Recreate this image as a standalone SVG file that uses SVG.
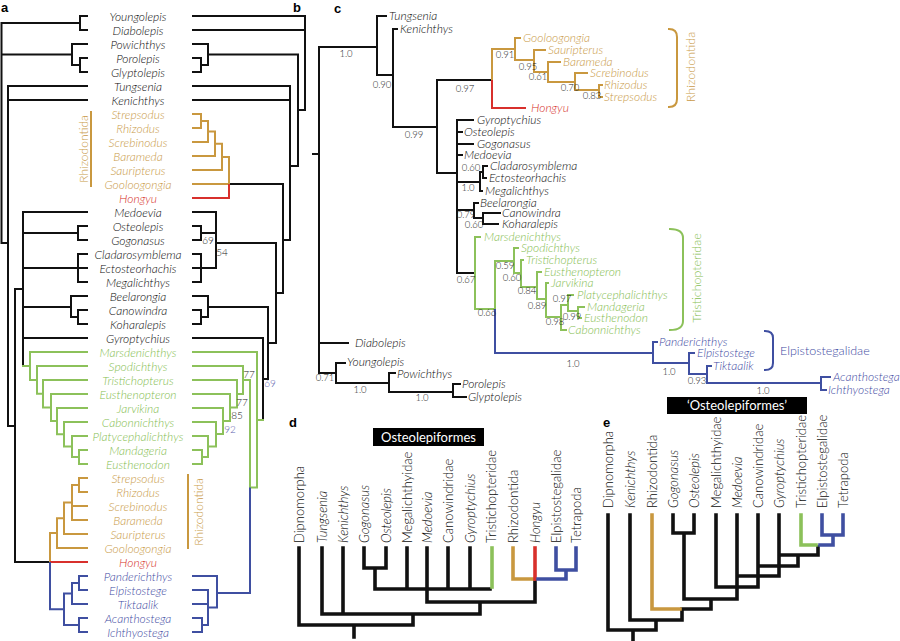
<svg xmlns="http://www.w3.org/2000/svg" width="900" height="641" viewBox="0 0 900 641">
<style>
text{font-family:Lato,"Open Sans","Liberation Sans",sans-serif;font-weight:300}
.t{font-size:12px;font-style:italic;fill:#0d0d0d}
.ta{text-anchor:middle}
.o{fill:#C99A48}
.gr{fill:#86BE52}
.re{fill:#D62F29}
.bl{fill:#3F4CA3}
.s{font-size:9.5px;fill:#222;text-anchor:middle}
.s10{font-size:10px;fill:#222;text-anchor:middle}
.p{fill:#5F66B0}
.L{fill:none;stroke-width:2;stroke-linecap:square;stroke-linejoin:miter}
.k{stroke:#111}
.lo{stroke:#C9983F}
.lg{stroke:#8CC15A}
.lr{stroke:#D8302C}
.lb{stroke:#3F4FA1}
.T{fill:none;stroke-width:3.6;stroke-linecap:square}
.n{font-size:13px;fill:#0d0d0d}
.i{font-style:italic}
.pl{font-family:"Liberation Sans",Arial,sans-serif;font-weight:bold;font-size:13px;fill:#000}
.grp{font-size:12.5px}
.bx{font-size:13px;fill:#fff;text-anchor:middle;font-weight:400}
</style>
<rect width="900" height="641" fill="#fff"/>
<text class="pl" x="1" y="12">a</text>
<text class="pl" x="293" y="12">b</text>
<text class="pl" x="334" y="13">c</text>
<text class="pl" x="289" y="427">d</text>
<text class="pl" x="603" y="427">e</text>

<!-- Panel a/b connectors -->
<g id="connectors-ab">
<path class="L k" d="M1.5,23 V243 M1.5,23 H80 M87,16 H80 V30 H87 M1.5,54.5 H72 M87,44 H72 V65 H80 M87,58 H80 V72 H87 M1.5,243 H8 M87,86 H8 V426 H15 M8,100 H87 M15,289 V562 H50 M15,289 H23 M87,212 H23 V366 M23,233 H78 M87,226 H78 V240 H87 M23,268 H87 M87,254 H78 V282 H87 M23,307 H71 M87,296 H71 V317 H78 M87,310 H78 V324 H87 M23,338 H87"/>
<path class="L lg" d="M23,366 H30 M87,352 H30 V379.9 H37 M87,366 H37 V393.8 H43 M87,380 H43 V407.6 H51 M87,394 H51 V421.1 H57 M87,408 H57 V434.3 H64 M87,422 H64 V446.5 H72 M87,436 H72 V457 H79 M87,450 H79 V464 H87"/>
<path class="L lo" d="M50,562 V533 H57 M87,548 H57 V518.3 H64 M87,534 H64 V502.5 H72 M87,520 H72 V485 H79 M87,478 H79 V492 H87 M72,506 H87"/>
<path class="L lr" d="M51,562 H87"/>
<path class="L lb" d="M50,563 V609.3 H64 M64,593.5 V625 H79 M87,618 H79 V632 H87 M64,593.5 H72 M87,604 H72 V583 H79 M87,576 H79 V590 H87"/>

<path class="L k" d="M193,16 H305 V110 H298 M193,30 H305 M193,44 H208 V65 H201 M193,58 H201 V72 H193 M208,54.5 H298 V166 H290 M193,86 H290 V240 H283 M193,100 H290 M229,184 H283 V293 H276 M193,212 H216 V268 H201 M193,226 H201 V240 H193 M201,233 H216 M201,268 H193 M193,254 H201 V282 H193 M216,243 H276 V343 H268 M193,296 H208 V317 H201 M193,310 H201 V324 H193 M208,307 H268 V379 H263 M193,338 H263 V420"/>
<path class="L lo" d="M193,114 H201 V128 H193 M201,121 H208 V142 H193 M208,131.5 H215 V156 H193 M215,143.8 H222 V170 H193 M222,156.9 H229 V184 H193"/>
<path class="L lr" d="M229,185 V198 H193"/>
<path class="L lg" d="M263,420 H257 M193,352 H257 V487.5 H250 V380 H243 M193,366 H243 V394 H237 M193,380 H237 V407.5 H230 M193,394 H230 V421 H223 M193,408 H223 V434 H216 M193,422 H216 V446.5 H208 M193,436 H208 V457 H202 M193,450 H202 V464 H193"/>
<path class="L lb" d="M250,488.5 V593 H217 M193,576 H217 V607.5 H208 M193,590 H208 V625 H202 M193,604 H208 M193,618 H202 V632 H193"/>
<path class="L lo" d="M91,112 V186 M188,475 V548"/>
</g>
<g id="support-b">
<text class="s10" x="208" y="244">69</text>
<text class="s10" x="222" y="256">54</text>
<text class="s10" x="249" y="378">77</text>
<text class="s10" x="242" y="406">77</text>
<text class="s10" x="237" y="419">85</text>
<text class="s10 p" x="230" y="433">92</text>
<text class="s10 p" x="270" y="387">69</text>
</g>
<g id="a-labels">
<g id="a-Youngolepis"><text class="t ta" x="138" y="20.5">Youngolepis</text></g>
<g id="a-Diabolepis"><text class="t ta" x="138" y="34.5">Diabolepis</text></g>
<g id="a-Powichthys"><text class="t ta" x="138" y="48.5">Powichthys</text></g>
<g id="a-Porolepis"><text class="t ta" x="138" y="62.5">Porolepis</text></g>
<g id="a-Glyptolepis"><text class="t ta" x="138" y="76.5">Glyptolepis</text></g>
<g id="a-Tungsenia"><text class="t ta" x="138" y="90.5">Tungsenia</text></g>
<g id="a-Kenichthys"><text class="t ta" x="138" y="104.5">Kenichthys</text></g>
<g id="a-Strepsodus-1"><text class="t ta o" x="138" y="118.5">Strepsodus</text></g>
<g id="a-Rhizodus-1"><text class="t ta o" x="138" y="132.5">Rhizodus</text></g>
<g id="a-Screbinodus-1"><text class="t ta o" x="138" y="146.5">Screbinodus</text></g>
<g id="a-Barameda-1"><text class="t ta o" x="138" y="160.5">Barameda</text></g>
<g id="a-Sauripterus-1"><text class="t ta o" x="138" y="174.5">Sauripterus</text></g>
<g id="a-Gooloogongia-1"><text class="t ta o" x="138" y="188.5">Gooloogongia</text></g>
<g id="a-Hongyu-1"><text class="t ta re" x="138" y="202.5">Hongyu</text></g>
<g id="a-Medoevia"><text class="t ta" x="138" y="216.5">Medoevia</text></g>
<g id="a-Osteolepis"><text class="t ta" x="138" y="230.5">Osteolepis</text></g>
<g id="a-Gogonasus"><text class="t ta" x="138" y="244.5">Gogonasus</text></g>
<g id="a-Cladarosymblema"><text class="t ta" x="138" y="258.5">Cladarosymblema</text></g>
<g id="a-Ectosteorhachis"><text class="t ta" x="138" y="272.5">Ectosteorhachis</text></g>
<g id="a-Megalichthys"><text class="t ta" x="138" y="286.5">Megalichthys</text></g>
<g id="a-Beelarongia"><text class="t ta" x="138" y="300.5">Beelarongia</text></g>
<g id="a-Canowindra"><text class="t ta" x="138" y="314.5">Canowindra</text></g>
<g id="a-Koharalepis"><text class="t ta" x="138" y="328.5">Koharalepis</text></g>
<g id="a-Gyroptychius"><text class="t ta" x="138" y="342.5">Gyroptychius</text></g>
<g id="a-Marsdenichthys"><text class="t ta gr" x="138" y="356.5">Marsdenichthys</text></g>
<g id="a-Spodichthys"><text class="t ta gr" x="138" y="370.5">Spodichthys</text></g>
<g id="a-Tristichopterus"><text class="t ta gr" x="138" y="384.5">Tristichopterus</text></g>
<g id="a-Eusthenopteron"><text class="t ta gr" x="138" y="398.5">Eusthenopteron</text></g>
<g id="a-Jarvikina"><text class="t ta gr" x="138" y="412.5">Jarvikina</text></g>
<g id="a-Cabonnichthys"><text class="t ta gr" x="138" y="426.5">Cabonnichthys</text></g>
<g id="a-Platycephalichthys"><text class="t ta gr" x="138" y="440.5">Platycephalichthys</text></g>
<g id="a-Mandageria"><text class="t ta gr" x="138" y="454.5">Mandageria</text></g>
<g id="a-Eusthenodon"><text class="t ta gr" x="138" y="468.5">Eusthenodon</text></g>
<g id="a-Strepsodus-2"><text class="t ta o" x="138" y="482.5">Strepsodus</text></g>
<g id="a-Rhizodus-2"><text class="t ta o" x="138" y="496.5">Rhizodus</text></g>
<g id="a-Screbinodus-2"><text class="t ta o" x="138" y="510.5">Screbinodus</text></g>
<g id="a-Barameda-2"><text class="t ta o" x="138" y="524.5">Barameda</text></g>
<g id="a-Sauripterus-2"><text class="t ta o" x="138" y="538.5">Sauripterus</text></g>
<g id="a-Gooloogongia-2"><text class="t ta o" x="138" y="552.5">Gooloogongia</text></g>
<g id="a-Hongyu-2"><text class="t ta re" x="138" y="566.5">Hongyu</text></g>
<g id="a-Panderichthys"><text class="t ta bl" x="138" y="580.5">Panderichthys</text></g>
<g id="a-Elpistostege"><text class="t ta bl" x="138" y="594.5">Elpistostege</text></g>
<g id="a-Tiktaalik"><text class="t ta bl" x="138" y="608.5">Tiktaalik</text></g>
<g id="a-Acanthostega"><text class="t ta bl" x="138" y="622.5">Acanthostega</text></g>
<g id="a-Ichthyostega"><text class="t ta bl" x="138" y="636.5">Ichthyostega</text></g>
<g id="a-Rhizodontida-1"><text class="o ta" font-size="12" transform="translate(87.5,149) rotate(-90)">Rhizodontida</text></g>
<g id="a-Rhizodontida-2"><text class="o ta" font-size="12" transform="translate(202.5,512) rotate(-90)">Rhizodontida</text></g>
</g>

<!-- Panel c connectors -->
<g id="connectors-c">
<path class="L k" d="M313,154 H319 M319,47 V373 M319,47 H377 M386,16 H377 V75 H393 M397,29 H393 V127 H437 M437,80 V173 H457 M437,80 H492 M457,120 V273 M457,120 H473 M457,132 H462 M457,144 H473 M457,155 H462 M457,182 H480 M482,191 H480 V172 H483 M487,166 H483 V178 H486 M457,210 H474 M478,203 H474 V218 H483 M500,213 H483 V224 H498 M457,273 H475 M319,343 H348 M319,373 H336 M345,363 H336 V383 H389 M395,373 H389 V392 H453 M460,384 H453 V397 H466"/>
<path class="L lo" d="M492,80 V49 H515 M520,38 H515 V60 H534 M545,50 H534 V72 H548 M560,62 H548 V82 H575 M587,73 H575 V90 H599 M602,85 H599 V97 H602"/>
<path class="L lr" d="M492,81 V108 H525"/>
<path class="L lg" d="M480,237 H475 V309 H495 V261 H514 M518,248 H514 V273 H521 M523,260 H521 V287 H537 M541,272 H537 V299 H546 M548,283 H546 V317 H561 M566,330 H561 V305 H568 M573,295 H568 V311 H578 M584,307 H578 V318 H581"/>
<path class="L lb" d="M495,310 V353 H653 M657,342 H653 V363 H689 M694,353 H689 V374 H707 M711,366 H707 V383 H821 M830,377 H821 V390 H826"/>
<path class="L lo" d="M669,29 Q677,29 677,37 V99 Q677,107 669,107"/>
<path class="L lg" d="M670,229 Q683,229 683,238 V321 Q683,330 670,330"/>
<path class="L lb" d="M765,331 Q773,331 773,338 V363 Q773,370 765,370"/>
</g>
<g id="support-c">
<text class="s" x="346" y="57">1.0</text>
<text class="s" x="382" y="88">0.90</text>
<text class="s" x="414" y="138">0.99</text>
<text class="s" x="465" y="92">0.97</text>
<text class="s" x="505" y="58">0.91</text>
<text class="s" x="528" y="70">0.95</text>
<text class="s" x="538" y="80">0.61</text>
<text class="s" x="570" y="91">0.70</text>
<text class="s" x="592" y="99">0.83</text>
<text class="s" x="471" y="171">0.60</text>
<text class="s" x="468" y="191">1.0</text>
<text class="s" x="466" y="218">0.79</text>
<text class="s" x="474" y="228">0.60</text>
<text class="s" x="466" y="283">0.67</text>
<text class="s" x="487" y="316">0.66</text>
<text class="s" x="505" y="269">0.59</text>
<text class="s" x="512" y="281">0.60</text>
<text class="s" x="527" y="294">0.84</text>
<text class="s" x="537" y="309">0.89</text>
<text class="s" x="555" y="325">0.98</text>
<text class="s" x="562" y="302">0.97</text>
<text class="s" x="572" y="320">0.99</text>
<text class="s" x="573" y="367" font-size="13">1.0</text>
<text class="s" x="669" y="375">1.0</text>
<text class="s" x="697" y="384">0.93</text>
<text class="s" x="763" y="394">1.0</text>
<text class="s" x="325" y="381">0.71</text>
<text class="s" x="360" y="393">1.0</text>
<text class="s" x="422" y="401">1.0</text>
</g>
<g id="c-labels">
<g id="c-Tungsenia"><text class="t" x="389" y="20">Tungsenia</text></g>
<g id="c-Kenichthys"><text class="t" x="400" y="33">Kenichthys</text></g>
<g id="c-Gooloogongia"><text class="t o" x="523" y="42">Gooloogongia</text></g>
<g id="c-Sauripterus"><text class="t o" x="548" y="54">Sauripterus</text></g>
<g id="c-Barameda"><text class="t o" x="563" y="66">Barameda</text></g>
<g id="c-Screbinodus"><text class="t o" x="590" y="77">Screbinodus</text></g>
<g id="c-Rhizodus"><text class="t o" x="604" y="89">Rhizodus</text></g>
<g id="c-Strepsodus"><text class="t o" x="604" y="101">Strepsodus</text></g>
<g id="c-Hongyu"><text class="t re" x="531" y="112">Hongyu</text></g>
<g id="c-Gyroptychius"><text class="t" x="477" y="124">Gyroptychius</text></g>
<g id="c-Osteolepis"><text class="t" x="464" y="136">Osteolepis</text></g>
<g id="c-Gogonasus"><text class="t" x="477" y="148">Gogonasus</text></g>
<g id="c-Medoevia"><text class="t" x="464" y="159">Medoevia</text></g>
<g id="c-Cladarosymblema"><text class="t" x="490" y="170">Cladarosymblema</text></g>
<g id="c-Ectosteorhachis"><text class="t" x="489" y="182">Ectosteorhachis</text></g>
<g id="c-Megalichthys"><text class="t" x="485" y="195">Megalichthys</text></g>
<g id="c-Beelarongia"><text class="t" x="480" y="207">Beelarongia</text></g>
<g id="c-Canowindra"><text class="t" x="502" y="217">Canowindra</text></g>
<g id="c-Koharalepis"><text class="t" x="502" y="228">Koharalepis</text></g>
<g id="c-Marsdenichthys"><text class="t gr" x="484" y="241">Marsdenichthys</text></g>
<g id="c-Spodichthys"><text class="t gr" x="521" y="252">Spodichthys</text></g>
<g id="c-Tristichopterus"><text class="t gr" x="526" y="264">Tristichopterus</text></g>
<g id="c-Eusthenopteron"><text class="t gr" x="544" y="276">Eusthenopteron</text></g>
<g id="c-Jarvikina"><text class="t gr" x="551" y="287">Jarvikina</text></g>
<g id="c-Platycephalichthys"><text class="t gr" x="577" y="299">Platycephalichthys</text></g>
<g id="c-Mandageria"><text class="t gr" x="587" y="311">Mandageria</text></g>
<g id="c-Eusthenodon"><text class="t gr" x="584" y="322">Eusthenodon</text></g>
<g id="c-Cabonnichthys"><text class="t gr" x="568" y="334">Cabonnichthys</text></g>
<g id="c-Panderichthys"><text class="t bl" x="659" y="346">Panderichthys</text></g>
<g id="c-Elpistostege"><text class="t bl" x="697" y="357">Elpistostege</text></g>
<g id="c-Tiktaalik"><text class="t bl" x="713" y="370">Tiktaalik</text></g>
<g id="c-Acanthostega"><text class="t bl" x="833" y="381">Acanthostega</text></g>
<g id="c-Ichthyostega"><text class="t bl" x="828" y="394">Ichthyostega</text></g>
<g id="c-Diabolepis"><text class="t" x="355" y="347">Diabolepis</text></g>
<g id="c-Youngolepis"><text class="t" x="347" y="366">Youngolepis</text></g>
<g id="c-Powichthys"><text class="t" x="397" y="378">Powichthys</text></g>
<g id="c-Porolepis"><text class="t" x="462" y="388">Porolepis</text></g>
<g id="c-Glyptolepis"><text class="t" x="468" y="401">Glyptolepis</text></g>
<g id="c-Rhizodontida"><text class="o ta grp" transform="translate(694.5,67) rotate(-90)">Rhizodontida</text></g>
<g id="c-Tristichopteridae"><text class="gr ta grp" transform="translate(700.5,278) rotate(-90)">Tristichopteridae</text></g>
<g id="c-Elpistostegalidae"><text class="bl grp" x="780" y="355">Elpistostegalidae</text></g>
</g>

<!-- Panel d -->
<g id="d-box"><rect x="373" y="428" width="111" height="18" fill="#000"/><text class="bx" x="428.5" y="441.5">Osteolepiformes</text></g>
<g id="connectors-d">
<path class="T k" d="M299,548 V625 H413 M354,625 V637 M322,548 V614 H480 M343,548 V614 M413,614 V625 M480,602 V614 M427,548 V602 H535 M364,548 V568 H386 V548 M375,568 V589 H490 M407,548 V589 M448,548 V589 M470,548 V589 M535,581 V602"/>
<path class="T lg" d="M492,548 V587"/>
<path class="T lo" d="M513,548 V579 H533"/>
<path class="T lr" d="M535,548 V579"/>
<path class="T lb" d="M556,548 V570 H576 V548 M566,570 V579 H538"/>
</g>
<g id="d-labels">
<g id="d-Dipnomorpha"><text class="n" transform="translate(303.5,543) rotate(-90)">Dipnomorpha</text></g>
<g id="d-Tungsenia"><text class="n i" transform="translate(326.5,543) rotate(-90)">Tungsenia</text></g>
<g id="d-Kenichthys"><text class="n i" transform="translate(347.5,543) rotate(-90)">Kenichthys</text></g>
<g id="d-Gogonasus"><text class="n i" transform="translate(368.5,543) rotate(-90)">Gogonasus</text></g>
<g id="d-Osteolepis"><text class="n i" transform="translate(390.5,543) rotate(-90)">Osteolepis</text></g>
<g id="d-Megalichthyidae"><text class="n" transform="translate(411.5,543) rotate(-90)">Megalichthyidae</text></g>
<g id="d-Medoevia"><text class="n i" transform="translate(432,543) rotate(-90)">Medoevia</text></g>
<g id="d-Canowindridae"><text class="n" transform="translate(452.5,543) rotate(-90)">Canowindridae</text></g>
<g id="d-Gyroptychius"><text class="n i" transform="translate(474.5,543) rotate(-90)">Gyroptychius</text></g>
<g id="d-Tristichopteridae"><text class="n gr" transform="translate(496,543) rotate(-90)">Tristichopteridae</text></g>
<g id="d-Rhizodontida"><text class="n o" transform="translate(517.5,543) rotate(-90)">Rhizodontida</text></g>
<g id="d-Hongyu"><text class="n i re" transform="translate(539.5,543) rotate(-90)">Hongyu</text></g>
<g id="d-Elpistostegalidae"><text class="n bl" transform="translate(560.5,543) rotate(-90)">Elpistostegalidae</text></g>
<g id="d-Tetrapoda"><text class="n bl" transform="translate(580.5,543) rotate(-90)">Tetrapoda</text></g>
</g>

<!-- Panel e -->
<g id="e-box"><rect x="667" y="397" width="140" height="17" fill="#000"/><text class="bx" x="737" y="410">‘Osteolepiformes’</text></g>
<g id="connectors-e">
<path class="T k" d="M608,515 V630 H656 M633,630 V641 M630,515 V620 H682 M656,620 V630 M682,609 V620 M684,609 H711 M673,515 V533 H694 V515 M684,533 V599 H737 M711,599 V609 M716,515 V587 H758 M737,515 V599 M758,515 V587 M737,576 H779 M779,515 V576 M758,566 H798 M798,555 V566 M779,555 H818 M818,547 V555"/>
<path class="T lo" d="M652,515 V609 H680"/>
<path class="T lg" d="M801,515 V545 H816"/>
<path class="T lb" d="M822,515 V535 H843 V515 M833,535 V545 H820"/>
</g>
<g id="e-labels">
<g id="e-Dipnomorpha"><text class="n" transform="translate(612.5,508) rotate(-90)">Dipnomorpha</text></g>
<g id="e-Kenichthys"><text class="n i" transform="translate(634.5,508) rotate(-90)">Kenichthys</text></g>
<g id="e-Rhizodontida"><text class="n o" transform="translate(656.5,508) rotate(-90)">Rhizodontida</text></g>
<g id="e-Gogonasus"><text class="n i" transform="translate(677.5,508) rotate(-90)">Gogonasus</text></g>
<g id="e-Osteolepis"><text class="n i" transform="translate(698.5,508) rotate(-90)">Osteolepis</text></g>
<g id="e-Megalichthyidae"><text class="n" transform="translate(720.5,508) rotate(-90)">Megalichthyidae</text></g>
<g id="e-Medoevia"><text class="n i" transform="translate(741.5,508) rotate(-90)">Medoevia</text></g>
<g id="e-Canowindridae"><text class="n" transform="translate(762.5,508) rotate(-90)">Canowindridae</text></g>
<g id="e-Gyroptychius"><text class="n i" transform="translate(783.5,508) rotate(-90)">Gyroptychius</text></g>
<g id="e-Tristichopteridae"><text class="n gr" transform="translate(805.5,508) rotate(-90)">Tristichopteridae</text></g>
<g id="e-Elpistostegalidae"><text class="n bl" transform="translate(826.5,508) rotate(-90)">Elpistostegalidae</text></g>
<g id="e-Tetrapoda"><text class="n bl" transform="translate(847.5,508) rotate(-90)">Tetrapoda</text></g>
</g>
</svg>
